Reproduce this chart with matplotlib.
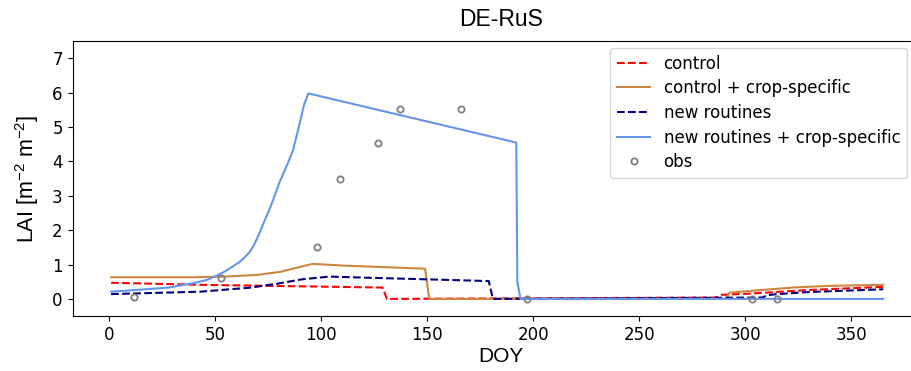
"""LAI over the year at DE-RuS: model variants against observations."""

import matplotlib
matplotlib.use('Agg')
import matplotlib.pyplot as plt

# control
doy_ctrl = [1, 43, 75, 109, 129, 131, 286, 289, 301, 330, 365]
lai_ctrl = [0.47, 0.41, 0.38, 0.35, 0.33, 0.0, 0.04, 0.12, 0.15, 0.26, 0.35]

# control + crop-specific
doy_ctrl_cs = [1, 40, 55, 70, 81, 88, 96, 110, 149, 151, 291, 292.5, 300, 322, 340, 365]
lai_ctrl_cs = [0.63, 0.63, 0.65, 0.70, 0.79, 0.90, 1.02, 0.97, 0.88, 0.0, 0.0, 0.18, 0.22, 0.33, 0.38, 0.41]

# new routines
doy_new = [1, 43, 67, 80, 91, 104, 120, 179, 181, 308, 310.5, 315, 330, 365]
lai_new = [0.14, 0.21, 0.33, 0.45, 0.57, 0.65, 0.62, 0.52, 0.0, 0.04, 0.11, 0.14, 0.20, 0.28]

# new routines + crop-specific
doy_new_cs = [1, 15, 28, 40, 46, 51, 54, 57.5, 61, 64, 66.5, 68.5, 71, 73.3, 75.5, 77.2, 80.3,
              82.7, 84.5, 86.6, 89, 92, 94, 192, 192.5, 194, 365]
lai_new_cs = [0.21, 0.27, 0.33, 0.46, 0.55, 0.68, 0.78, 0.91, 1.05, 1.21, 1.38, 1.59, 1.92, 2.27,
              2.58, 2.85, 3.38, 3.72, 3.98, 4.30, 4.88, 5.66, 5.98, 4.55, 0.5, 0.0, 0.0]

# observations
doy_obs = [12, 53, 98, 109, 127, 137, 166, 197, 303, 315]
lai_obs = [0.05, 0.6, 1.51, 3.49, 4.55, 5.53, 5.52, 0.0, 0.0, 0.0]

plt.rcParams['mathtext.fontset'] = 'custom'
plt.rcParams['mathtext.rm'] = 'Liberation Sans'
plt.rcParams['mathtext.default'] = 'regular'

fig = plt.figure(figsize=(9.11, 3.71), dpi=100)
ax = fig.add_axes([0.0796, 0.148, 0.94, 0.741])

ax.plot(doy_ctrl, lai_ctrl, '--', color='red', lw=1.5, label='control')
ax.plot(doy_ctrl_cs, lai_ctrl_cs, '-', color='peru', lw=1.5, label='control + crop-specific')
ax.plot(doy_new, lai_new, '--', color='navy', lw=1.5, label='new routines')
ax.plot(doy_new_cs, lai_new_cs, '-', color='cornflowerblue', lw=1.5, label='new routines + crop-specific')
ax.plot(doy_obs, lai_obs, 'o', mfc='none', mec='gray', mew=1.3, ms=4.5, label='obs')

ax.set_xlim(-17.2, 386.5)
ax.set_ylim(-0.5, 7.5)
ax.set_xticks(range(0, 351, 50))
ax.set_yticks(range(0, 8))
ax.tick_params(axis='both', labelsize=12)
# the original picture is cut off before the right frame line
ax.spines['right'].set_visible(False)

ax.set_title('DE-RuS', fontsize=16.5, family='Liberation Sans', pad=11)
ax.set_xlabel('DOY', fontsize=15, family='Liberation Sans', labelpad=2)
ax.set_ylabel('LAI [m$^{-2}$ m$^{-2}$]', fontsize=15.5, family='Liberation Sans', labelpad=8)

ax.legend(loc='upper right', bbox_to_anchor=(907 / 911, (371 - 48) / 371),
          bbox_transform=fig.transFigure, borderaxespad=0, fontsize=12, labelspacing=0.4)

fig.savefig('out.png', dpi=100)
